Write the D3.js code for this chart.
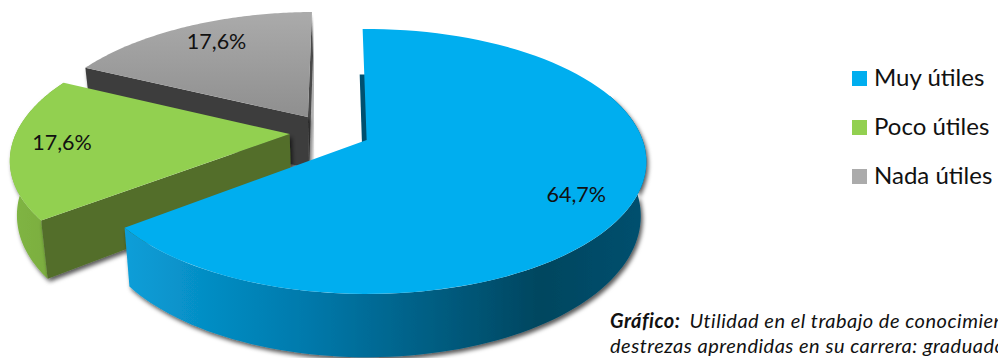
<!DOCTYPE html>
<html>
<head>
<meta charset="utf-8">
<script src="https://cdn.jsdelivr.net/npm/d3@7"></script>
<style>
  html, body { margin: 0; padding: 0; background: #fff; overflow: hidden; }
  svg { display: block; }
  text { font-family: Lato, "Open Sans", sans-serif; fill: #111; }
</style>
</head>
<body>
<div id="chart"></div>
<script>
// data
var categories = ["Muy útiles", "Poco útiles", "Nada útiles"];
var values = [64.7, 17.6, 17.6];
var valueLabels = ["64,7%", "17,6%", "17,6%"];
var captionLines = [
    "Utilidad en el trabajo de conocimientos y",
    "destrezas aprendidas en su carrera: graduados"
];

var width = 998, height = 358;

// fake 3d camera, fitted by eye against the picture
var cx = 365, cy = 140;   // pie centre on the screen
var rx = 276, ry = 129;   // disc radii
var persp = 0.162;        // how much closer the front of the disc gets
var depth = 53;           // wall height
var shrink = 0.98;        // bottom disc is a little smaller in x
var labelRadius = 0.82;

// how far each slice is pulled out, in disc units
var pull = [[0.006, 0], [-0.275, -0.046], [-0.213, -0.183]];
// nudges for the value labels, px
var labelNudge = [[-7, 6], [0, -2], [10, 1]];

var svg = d3.select("#chart").append("svg")
    .attr("width", width)
    .attr("height", height);

var defs = svg.append("defs");

function addGradient(id, x1, y1, x2, y2, stops) {
    var g = defs.append("linearGradient").attr("id", id)
        .attr("gradientUnits", "userSpaceOnUse")
        .attr("x1", x1).attr("y1", y1).attr("x2", x2).attr("y2", y2);
    stops.forEach(function(s) {
        g.append("stop").attr("offset", s[0]).attr("stop-color", s[1]);
    });
}

addGradient("blueRim", 126, 0, 645, 0, [[0, "#0a9ed8"], [0.35, "#0079ab"], [0.8, "#00465f"], [1, "#00506f"]]);
addGradient("greenRim", 10, 0, 60, 0, [[0, "#80b545"], [1, "#7aac3c"]]);
addGradient("grayTop", 0, 11, 0, 120, [[0, "#ababab"], [1, "#8e8e8e"]]);
addGradient("graySwatch", 0, 169, 0, 185, [[0, "#ababab"], [1, "#8e8e8e"]]);

var shadow = defs.append("filter").attr("id", "shadow")
    .attr("x", "-10%").attr("y", "-10%").attr("width", "120%").attr("height", "130%");
shadow.append("feDropShadow")
    .attr("dx", 2).attr("dy", 3).attr("stdDeviation", 2.2)
    .attr("flood-color", "#000").attr("flood-opacity", 0.65);

var pie = d3.pie().sort(null)
    .startAngle(-0.016)
    .endAngle(2 * Math.PI - 0.016);
var slices = pie(values);

var line = d3.line();

// disc position -> screen, z 0 is the top face, z 1 the bottom
function project(u, v, z) {
    var s = 1 / (1 - persp * v);
    var x = rx * u * s;
    var y = ry * v * s;
    if (z) {
        x = x * shrink;
        y = y + depth * s;
    }
    return [cx + x, cy + y];
}

function rimPoint(i, a, z, r) {
    r = r === undefined ? 1 : r;
    return project(pull[i][0] + r * Math.sin(a), pull[i][1] - r * Math.cos(a), z);
}

function arcPoints(i, a0, a1, z) {
    var n = 90, pts = [];
    for (var k = 0; k <= n; k++) pts.push(rimPoint(i, a0 + (a1 - a0) * k / n, z));
    return pts;
}

function topPath(i) {
    var d = slices[i];
    return line([rimPoint(i, 0, 0, 0)].concat(arcPoints(i, d.startAngle, d.endAngle, 0))) + "Z";
}

function rimPath(i, a0, a1) {
    return line(arcPoints(i, a0, a1, 0).concat(arcPoints(i, a1, a0, 1))) + "Z";
}

function facePath(i, a) {
    return line([rimPoint(i, 0, 0, 0), rimPoint(i, a, 0), rimPoint(i, a, 1), rimPoint(i, 0, 1, 0)]) + "Z";
}

// only the lower part of the back wall peeks out on the left of the big slice
function stripPath(i, a, off) {
    var rb = rimPoint(i, a, 1), ab = rimPoint(i, 0, 1, 0);
    return line([[rb[0] + off, rb[1]], [ab[0] + off, ab[1]], [ab[0] + 4, ab[1]], [rb[0] + 4, rb[1]]]) + "Z";
}

var colors = ["#00aeef", "#92d050", "url(#grayTop)"];
var swatches = ["#00aeef", "#92d050", "url(#graySwatch)"];

// back to front: gray, green, blue
var gray = svg.append("g");
gray.append("path").attr("d", facePath(2, slices[2].endAngle))
    .attr("fill", "#4a4a4a").attr("filter", "url(#shadow)");
gray.append("path").attr("d", facePath(2, slices[2].startAngle))
    .attr("fill", "#3d3d3d").attr("filter", "url(#shadow)");
gray.append("path").attr("d", topPath(2)).attr("fill", colors[2]);

var green = svg.append("g");
green.append("path").attr("d", rimPath(1, slices[1].startAngle, slices[1].endAngle))
    .attr("fill", "url(#greenRim)").attr("filter", "url(#shadow)");
green.append("path").attr("d", facePath(1, slices[1].startAngle))
    .attr("fill", "#526e2a").attr("filter", "url(#shadow)");
green.append("path").attr("d", topPath(1)).attr("fill", colors[1]);

var blue = svg.append("g");
blue.append("path").attr("d", stripPath(0, slices[0].startAngle, -3))
    .attr("fill", "#00506f");
blue.append("path").attr("d", rimPath(0, 1.2, slices[0].endAngle))
    .attr("fill", "url(#blueRim)").attr("filter", "url(#shadow)");
blue.append("path").attr("d", topPath(0)).attr("fill", colors[0]);

// value labels
svg.selectAll("text.value")
    .data(slices)
    .enter().append("text")
    .attr("class", "value")
    .attr("text-anchor", "middle")
    .attr("font-size", 21.5)
    .attr("transform", function(d, i) {
        var p = rimPoint(i, (d.startAngle + d.endAngle) / 2, 0, labelRadius);
        return "translate(" + (p[0] + labelNudge[i][0]) + "," + (p[1] + labelNudge[i][1] + 7) + ")";
    })
    .text(function(d, i) { return valueLabels[i]; });

// legend
var legendY = d3.scalePoint().domain(categories).range([71, 169]);

var legend = svg.selectAll("g.legend")
    .data(categories)
    .enter().append("g")
    .attr("class", "legend")
    .attr("transform", function(d) { return "translate(852," + legendY(d) + ")"; });

legend.append("rect")
    .attr("width", 15).attr("height", 15)
    .attr("fill", function(d, i) { return swatches[i]; });

legend.append("text")
    .attr("x", 22).attr("y", 15)
    .attr("font-size", 24)
    .text(function(d) { return d; });

// caption, runs off the right edge like the original
var caption = svg.append("text")
    .attr("font-size", 20)
    .attr("letter-spacing", 0.5)
    .attr("font-style", "italic");

var first = caption.append("tspan").attr("x", 610).attr("y", 328);
first.append("tspan").attr("font-weight", "bold").text("Gráfico:");
first.append("tspan").attr("dx", 9).text(captionLines[0]);
caption.append("tspan").attr("x", 610).attr("y", 353).text(captionLines[1]);
</script>
</body>
</html>
